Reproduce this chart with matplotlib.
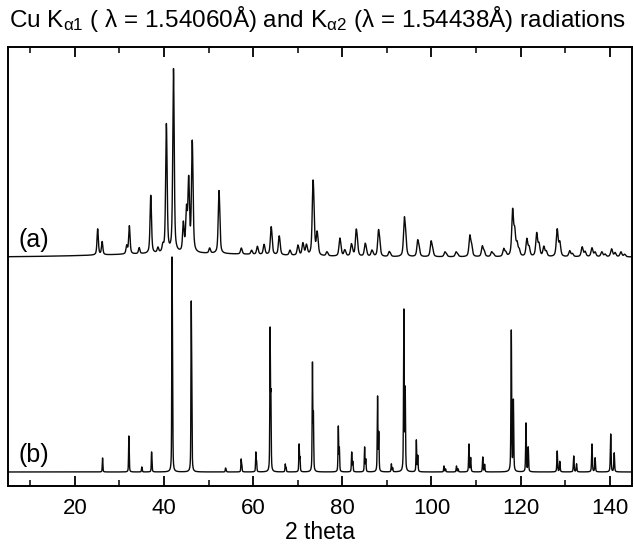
import numpy as np
import matplotlib
matplotlib.use("Agg")
import matplotlib.pyplot as plt
from matplotlib.ticker import MultipleLocator

plt.rcParams['font.family'] = ['Liberation Sans', 'DejaVu Sans']
plt.rcParams['mathtext.fontset'] = 'custom'
plt.rcParams['mathtext.rm'] = 'Liberation Sans'
plt.rcParams['mathtext.it'] = 'Liberation Sans:italic'

# ---- data ----
# (a) measured pattern: peak positions (2theta, deg) and heights (arb. units)
a_pos = [25.1, 26.1, 31.6, 32.2, 34.4, 37.0, 38.6, 39.7, 40.5, 42.1, 42.25,
         44.3, 45.0, 45.5, 46.3, 50.2, 52.3, 57.3, 59.6, 60.9, 62.4, 64.0,
         65.8, 68.2, 70.0, 71.1, 71.9, 73.4, 74.3, 76.5, 79.4, 80.5, 82.0,
         83.1, 85.1, 86.6, 88.1, 90.5, 93.9, 96.9, 99.9, 103.0, 105.5,
         108.6, 111.4, 113.5, 116.2, 118.2, 119.2, 121.4, 123.6, 125.2,
         128.2, 131.0, 133.8, 136.0, 138.2, 140.4, 142.5]
a_hgt = [26, 13, 8, 28, 6, 58, 5, 6, 128, 192, -14,
         28, 40, 70, 110, 5, 63, 6, 4, 8, 10, 28,
         19, 5, 10, 12, 10, 75, 22, 4, 18, 6, 12,
         27, 13, 6, 27, 5, 40, 17, 16, 5, 5,
         22, 11, 5, 8, 48, 12, 18, 24, 10,
         28, 6, 10, 9, 5, 8, 5]

# (b) calculated pattern: peak positions and heights
b_pos = [26.2, 32.1, 35.0, 37.2, 41.8, 46.1, 53.8, 57.3, 60.6, 63.8, 67.2,
         70.3, 73.3, 79.1, 82.1, 85.0, 87.9, 91.0, 93.8, 96.6, 102.8, 105.6,
         108.4, 111.5, 117.9, 121.2, 128.2, 131.9, 136.0, 140.2]
b_hgt = [14, 36, 5, 20, 215, 171, 4, 13, 20, 145, 8,
         28, 110, 46, 20, 25, 76, 8, 163, 32, 6, 6,
         28, 15, 142, 49, 21, 16, 28, 38]

x_ticks = [20, 40, 60, 80, 100, 120, 140]

# ---- profile building ----
lam1, lam2 = 1.54060, 1.54438
two_theta = np.linspace(5, 145, 8000)


def doublet(p, fwhm, eta):
    th = np.radians(p / 2)
    p2 = 2 * np.degrees(np.arcsin(min(0.9999, lam2 / lam1 * np.sin(th))))
    y = np.zeros_like(two_theta)
    for c, s in ((p, 1.0), (p2, 0.5)):
        w = fwhm * (1 + 0.004 * (c - 20))
        d = (two_theta - c) / (w / 2)
        y += s * (eta / (1 + d ** 2) + (1 - eta) * np.exp(-np.log(2) * d ** 2))
    return y / y.max()


def pattern(pos, hgt, fwhm, eta):
    out = np.zeros_like(two_theta)
    for p, h in zip(pos, hgt):
        out += h * doublet(p, fwhm, eta)
    return out


a_y = pattern(a_pos, a_hgt, 0.34, 0.6)
a_y += 3.5 * np.exp(-((two_theta - 45) / 25) ** 2)
b_y = pattern(b_pos, b_hgt, 0.13, 0.5)

a_offset = 229
b_offset = 14

fig = plt.figure(figsize=(6.34, 5.53), dpi=100)
ax = fig.add_axes([0.0126, 0.1212, 0.9844, 0.7938])
ax.plot(two_theta, a_y + a_offset, color='#0a0a0a', lw=1.0)
ax.plot(two_theta, b_y + b_offset, color='#0a0a0a', lw=1.0)

ax.set_xlim(5, 145)
ax.set_ylim(0, 439)
ax.set_yticks([])
ax.set_xticks(x_ticks)
ax.xaxis.set_minor_locator(MultipleLocator(10))
ax.tick_params(axis='x', which='both', direction='in', top=True, labelsize=16)
ax.tick_params(axis='x', which='major', length=7, width=1.3, pad=9)
ax.tick_params(axis='x', which='minor', length=4, width=1.1)
for s in ax.spines.values():
    s.set_linewidth(1.4)

ax.text(7.4, 246, '(a)', fontsize=18, va='center', ha='left')
ax.text(7.4, 31, '(b)', fontsize=18, va='center', ha='left')

ax.set_xlabel('2 theta', fontsize=16.5, labelpad=1)
fig.text(0.5, 0.966,
         'Cu K$_{\\mathregular{α1}}$ ( λ = 1.54060Å) and K$_{\\mathregular{α2}}$ (λ = 1.54438Å) radiations',
         ha='center', va='center', fontsize=17.5)

fig.savefig('out.png', dpi=100)
